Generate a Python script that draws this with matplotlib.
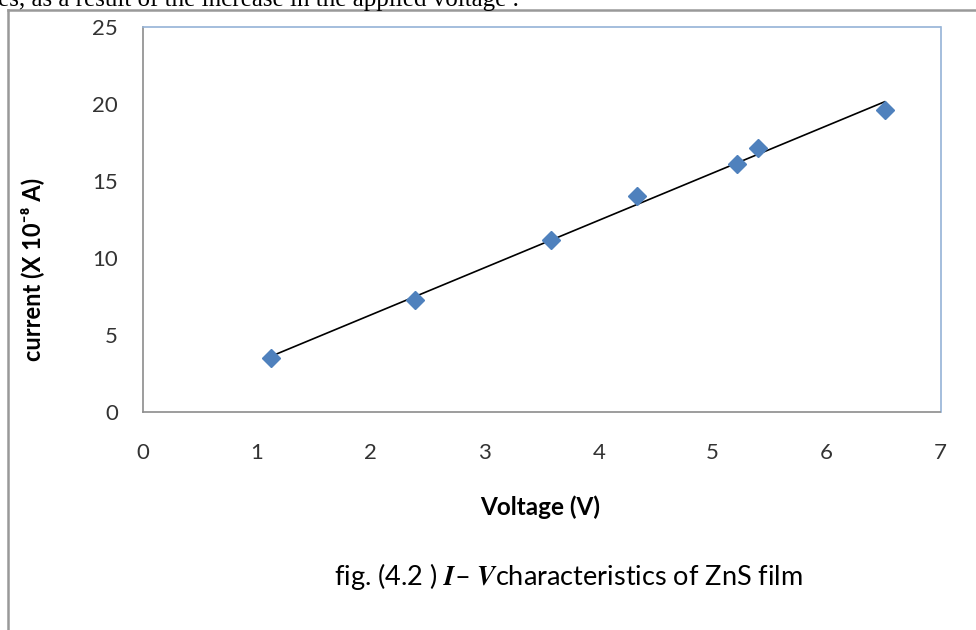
import numpy as np
import matplotlib
matplotlib.use("Agg")
import matplotlib.pyplot as plt
from matplotlib.lines import Line2D

# Data
voltage = [1.12, 2.39, 3.58, 4.34, 5.21, 5.40, 6.51]
current = [3.5, 7.25, 11.2, 14.0, 16.1, 17.15, 19.6]
x_ticks = [0, 1, 2, 3, 4, 5, 6, 7]
y_ticks = [0, 5, 10, 15, 20, 25]

plt.rcParams['font.family'] = ['Lato', 'DejaVu Sans']
plt.rcParams['mathtext.fontset'] = 'stix'

fig = plt.figure(figsize=(9.76, 6.30), dpi=100)
W, H = 976, 630
ax = fig.add_axes([143 / W, 1 - 412 / H, (940.5 - 143) / W, (412 - 27) / H])

# trend line (linear fit)
m, b = np.polyfit(voltage, current, 1)
xs = np.array([min(voltage), max(voltage)])
ax.plot(xs, m * xs + b, color='black', lw=1.2, zorder=2)
ax.plot(voltage, current, linestyle='none', marker='D', ms=9.5,
        color='#4F81BD', mec='#4F81BD', zorder=3)

ax.set_xlim(0, 7)
ax.set_ylim(0, 25)
ax.set_xticks(x_ticks)
ax.set_yticks(y_ticks)
ax.tick_params(length=0, labelsize=16, labelcolor='#333333')
ax.tick_params(axis='x', pad=22)
ax.tick_params(axis='y', pad=18)
for s in ['left', 'bottom']:
    ax.spines[s].set_color('#8C8C8C')
    ax.spines[s].set_linewidth(1.2)
for s in ['top', 'right']:
    ax.spines[s].set_color('#95B3D7')
    ax.spines[s].set_linewidth(1.2)

# axis titles
fig.text(540 / W, 1 - 507 / H, 'Voltage (V)', fontsize=17.5, fontweight='bold',
         ha='center', va='center')
fig.text(32 / W, 1 - 269 / H, 'current (X 10⁻⁸ A)', fontsize=17, fontweight='bold',
         ha='center', va='center', rotation=90)

# caption
fig.text(568 / W, 1 - 577 / H,
         r'fig. (4.2 ) $\boldsymbol{I}$– $\boldsymbol{V}$characteristics of ZnS film',
         fontsize=19.5, ha='center', va='center')

# cut-off document text at top
fig.text(-2 / W, 1 - 6 / H, 'es, as a result of the increase in the applied voltage .',
         fontsize=18, family=['Liberation Serif', 'DejaVu Serif'],
         ha='left', va='baseline')

# outer frame lines
fig.add_artist(Line2D([7.5 / W, 1.0], [1 - 10 / H, 1 - 10 / H], color='#999999', lw=1.8,
                      transform=fig.transFigure))
fig.add_artist(Line2D([7.5 / W, 7.5 / W], [1 - 10 / H, 0], color='#999999', lw=1.8,
                      transform=fig.transFigure))

fig.savefig('out.png', dpi=100)
